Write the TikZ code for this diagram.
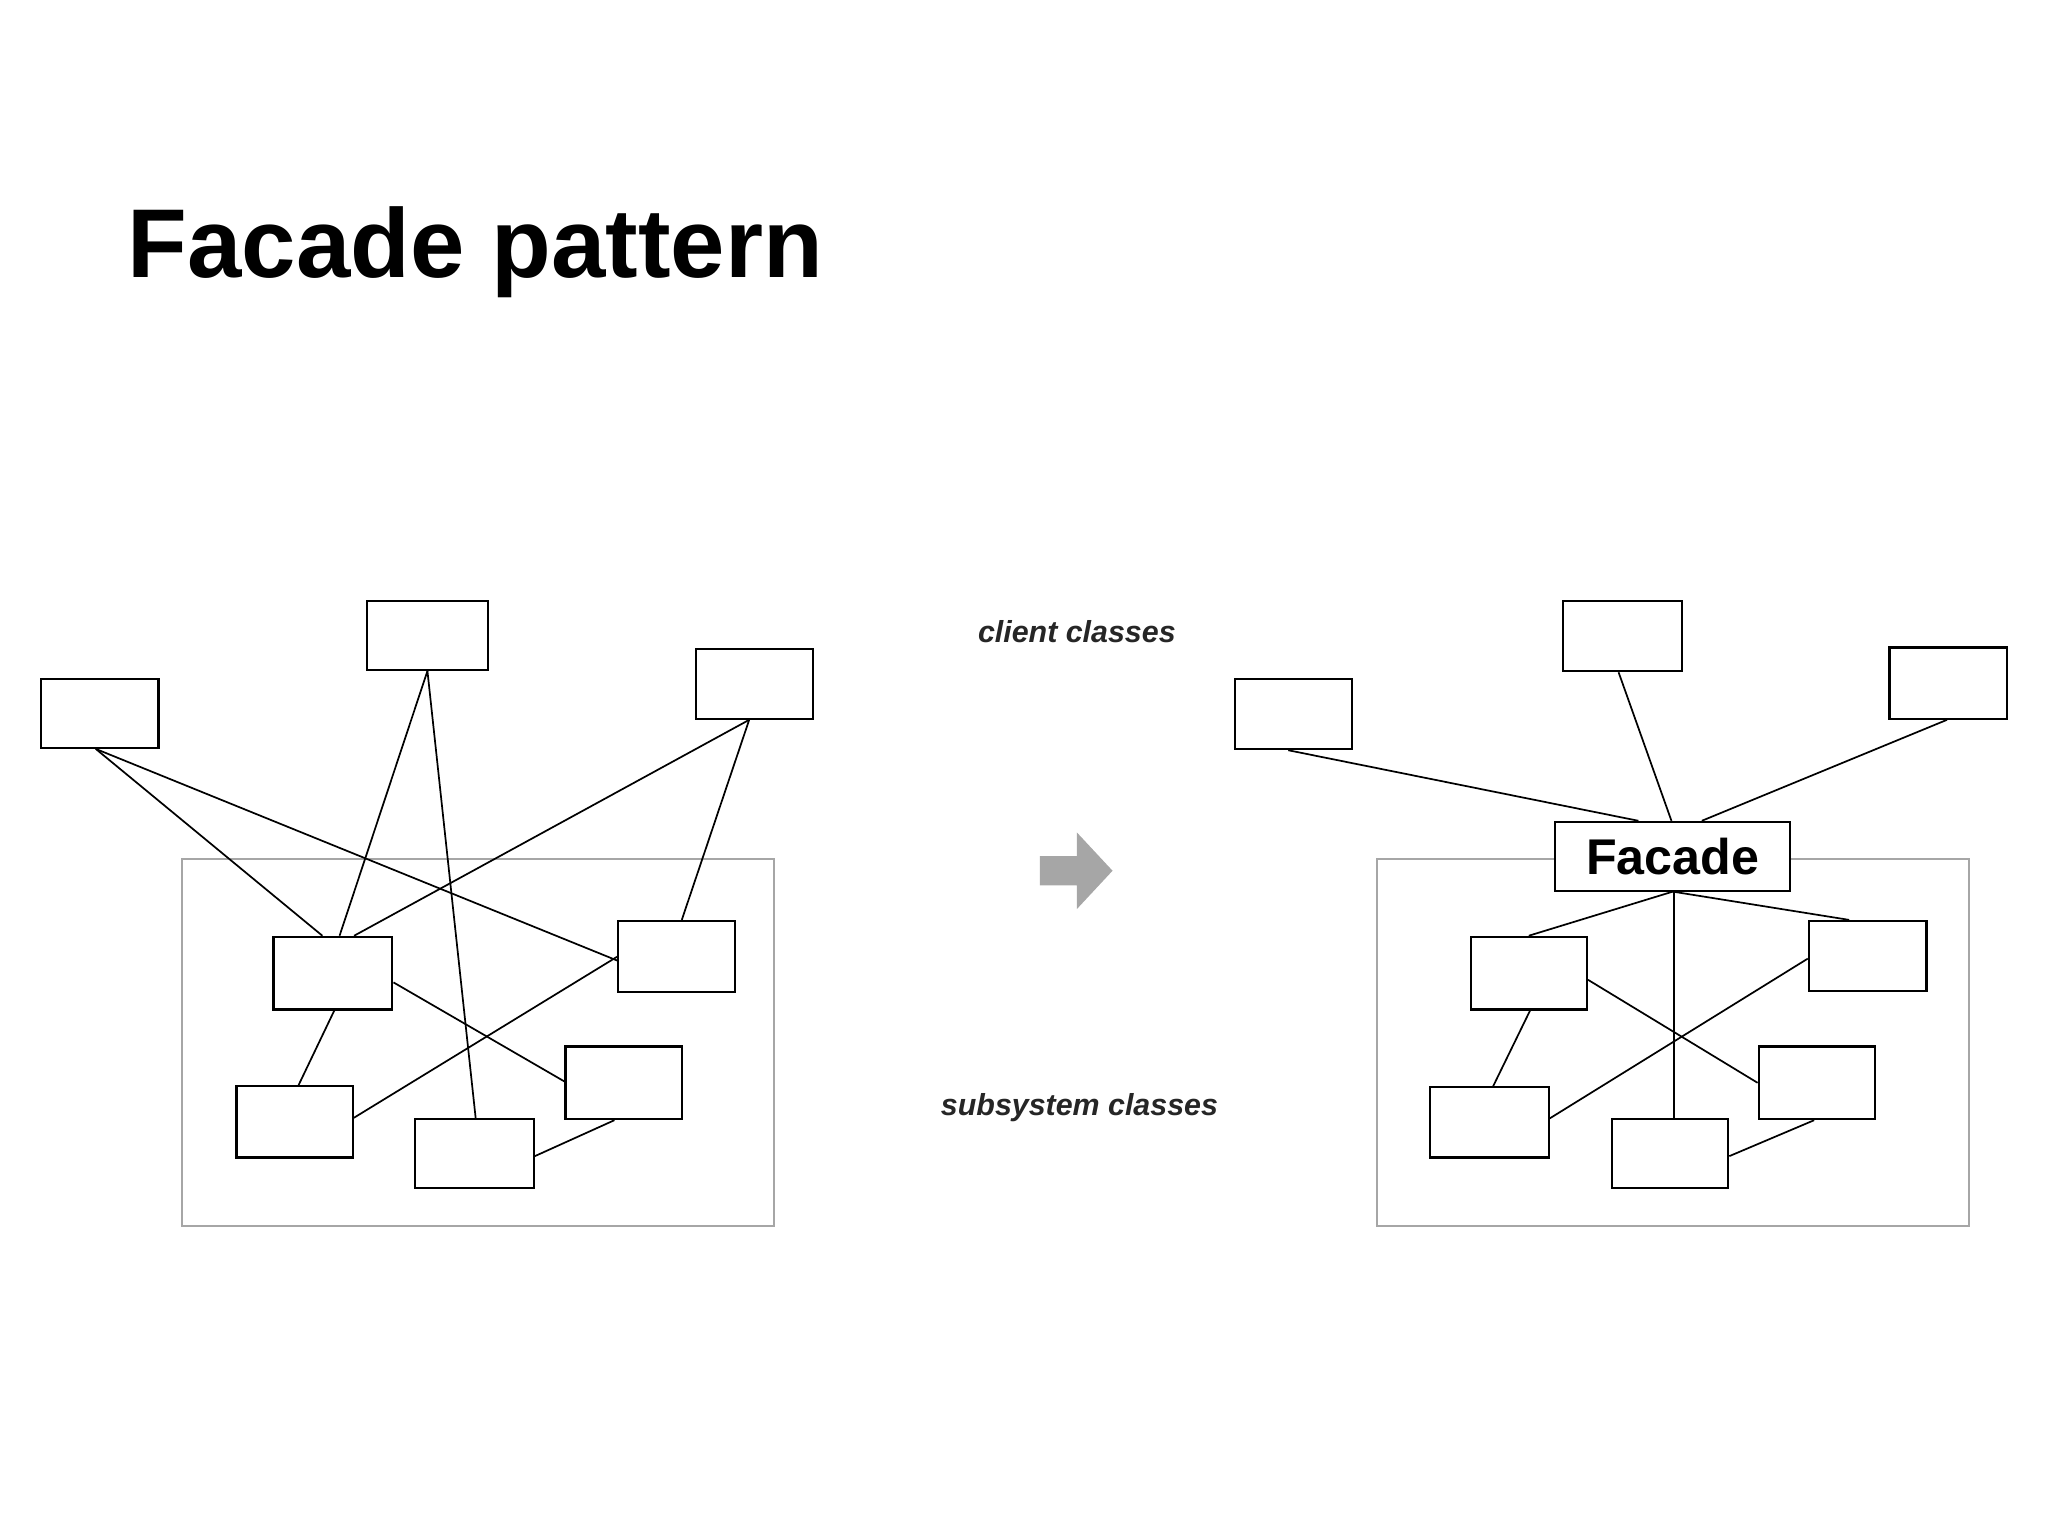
\documentclass[tikz,border=0pt]{standalone}
\usepackage{fontspec}
\setmainfont{Liberation Sans}
\usetikzlibrary{calc}
\tikzset{cls/.style={draw=black,line width=1.6pt,inner sep=0pt,fill=white},
 lnk/.style={line width=1.3pt},
 sub/.style={draw=gray!70,line width=1.3pt},
 lab/.style={font=\fontsize{23}{26}\selectfont\bfseries\itshape,text=black!85}}
\newcommand{\bx}[5]{%
 \pgfmathsetmacro{\bxw}{(#4)-(#2)}%
 \pgfmathsetmacro{\bxh}{(#5)-(#3)}%
 \pgfmathsetmacro{\bxx}{((#2)+(#4))/2}%
 \pgfmathsetmacro{\bxy}{-((#3)+(#5))/2}%
 \node[cls,minimum width=\bxw pt,minimum height=\bxh pt] (#1) at (\bxx,\bxy) {};}
\begin{document}
\begin{tikzpicture}[x=1pt,y=1pt]
\useasboundingbox (0,0) rectangle (1550,-1162.5);
\node[anchor=base west,font=\fontsize{74}{80}\selectfont\bfseries] (title) at (93,-210) {Facade pattern};
% left
\draw[sub] (138,-650) rectangle (586,-928);
\bx{a1}{31}{514}{120}{566}
\bx{a2}{278}{455}{369}{507}
\bx{a3}{527}{491}{615}{544}
\bx{b1}{207}{709}{297}{764}
\bx{b2}{468}{697}{556}{751}
\bx{b3}{179}{822}{267}{876}
\bx{b4}{428}{792}{516}{847}
\bx{b5}{314}{847}{404}{899}
\draw[lnk] ($(a1.south)+(-3,0)$) -- ($(b1.north)+(-8,0)$);
\draw[lnk] ($(a1.south)+(-3,0)$) -- ($(b2.west)+(0,-3)$);
\draw[lnk] (a2.south) -- ($(b1.north)+(5,0)$);
\draw[lnk] (a2.south) -- ($(b5.north)+(1,0)$);
\draw[lnk] ($(a3.south)+(-4,0)$) -- ($(b1.north)+(16,0)$);
\draw[lnk] ($(a3.south)+(-4,0)$) -- ($(b2.north)+(4,0)$);
\draw[lnk] ($(b1.south)+(1,0)$) -- ($(b3.north)+(3,0)$);
\draw[lnk] ($(b1.east)+(0,-7)$) -- ($(b4.west)+(0,1)$);
\draw[lnk] ($(b3.east)+(0,3)$) -- ($(b2.west)+(0,0)$);
\draw[lnk] ($(b5.east)+(0,-2)$) -- ($(b4.south)+(-7,0)$);
% middle
\node[lab] (cc) at (815,-478) {client classes};
\node[lab] (sc) at (817,-838) {subsystem classes};
\fill[gray!70] (787,-648) -- (815,-648) -- (815,-630) -- (842,-659) -- (815,-688) -- (815,-670) -- (787,-670) -- cycle;
% right
\draw[sub] (1042,-650) rectangle (1490,-928);
\bx{c1}{935}{514}{1023}{567}
\bx{c2}{1183}{455}{1273}{508}
\bx{c3}{1430}{490}{1519}{544}
\bx{d1}{1113}{709}{1201}{764}
\bx{d2}{1369}{697}{1458}{750}
\bx{d3}{1082}{823}{1172}{876}
\bx{d4}{1331}{792}{1419}{847}
\bx{d5}{1220}{847}{1308}{899}
\node[cls,minimum width=178pt,minimum height=52pt,font=\fontsize{38}{40}\selectfont\bfseries] (f) at (1266,-648) {Facade};
\draw[lnk] ($(c1.south)+(-4,0)$) -- ($(f.north)+(-26,0)$);
\draw[lnk] ($(c2.south)+(-3,0)$) -- ($(f.north)+(-1,0)$);
\draw[lnk] ($(c3.south)+(-1,0)$) -- ($(f.north)+(22,0)$);
\draw[lnk] (f.south) -- (d1.north);
\draw[lnk] (f.south) -- ($(d2.north)+(-14,0)$);
\draw[lnk] ($(f.south)+(1,0)$) -- ($(d5.north)+(3,0)$);
\draw[lnk] ($(d1.east)+(0,-5)$) -- ($(d4.west)+(0,0)$);
\draw[lnk] ($(d3.east)+(0,3)$) -- ($(d2.west)+(0,-2)$);
\draw[lnk] ($(d3.north)+(3,0)$) -- ($(d1.south)+(1,0)$);
\draw[lnk] ($(d5.east)+(0,-2)$) -- ($(d4.south)+(-2,0)$);
\end{tikzpicture}
\end{document}
